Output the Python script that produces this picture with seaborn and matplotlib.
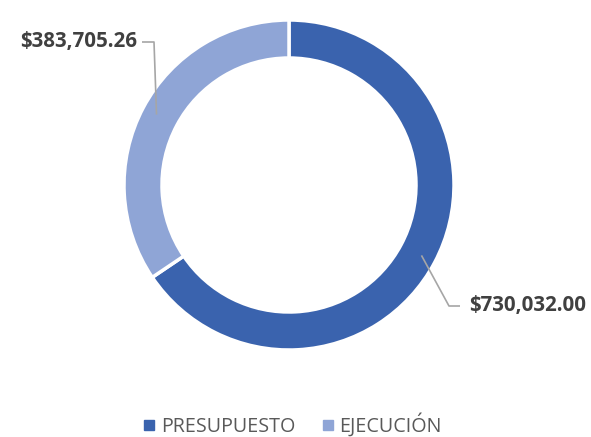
import numpy as np
import matplotlib
matplotlib.use("Agg")
import matplotlib.pyplot as plt
from matplotlib.lines import Line2D
import seaborn as sns

categories = ["PRESUPUESTO", "EJECUCIÓN"]
values = [730032.00, 383705.26]
value_labels = ["$730,032.00", "$383,705.26"]
colors = ["#3A63AE", "#8FA5D6"]

sns.set_theme(style="white")
plt.rcParams['font.family'] = ['Open Sans', 'DejaVu Sans']

W, H = 591, 437
fig = plt.figure(figsize=(W / 100, H / 100), dpi=100)
ax = fig.add_axes([0, 0, 1, 1])
ax.set_xlim(0, W)
ax.set_ylim(0, H)
ax.set_aspect('equal')
ax.axis('off')

cx, cy = 289, H - 185
R, width = 165, 38
wedges, _ = ax.pie(values, colors=colors, startangle=90, counterclock=False,
                   center=(cx, cy), radius=R, frame=True,
                   wedgeprops=dict(width=width, edgecolor='white', linewidth=2.5))
ax.set_xlim(0, W)
ax.set_ylim(0, H)
ax.axis('off')

# Leader lines and labels
layout = {
    "PRESUPUESTO": dict(elbow=(449, H - 306), end=(460, H - 306), text=(469, H - 306), ha='left'),
    "EJECUCIÓN": dict(elbow=(154, H - 42), end=(142, H - 42), text=(137, H - 42), ha='right'),
}
for w, cat, lab in zip(wedges, categories, value_labels):
    ang = np.deg2rad((w.theta1 + w.theta2) / 2)
    rm = R - width / 2 + 4
    px, py = cx + rm * np.cos(ang), cy + rm * np.sin(ang)
    L = layout[cat]
    ax.plot([px, L['elbow'][0], L['end'][0]], [py, L['elbow'][1], L['end'][1]],
            color='#A6A6A6', lw=1.2, solid_capstyle='butt')
    ax.text(L['text'][0], L['text'][1], lab, ha=L['ha'], va='center',
            fontsize=14.8, fontweight='bold', color='#404040')

handles = [Line2D([0], [0], marker='s', linestyle='none', markersize=6.5,
                  markerfacecolor=c, markeredgecolor=c) for c in colors]
fig.legend(handles, categories, loc='center', bbox_to_anchor=(292 / W, 1 - 425 / H),
           ncol=2, frameon=False, fontsize=14.2, labelcolor='#595959',
           handletextpad=0.25, columnspacing=1.3, handlelength=0.7,
           borderpad=0.2)

fig.savefig("out.png", dpi=100)
